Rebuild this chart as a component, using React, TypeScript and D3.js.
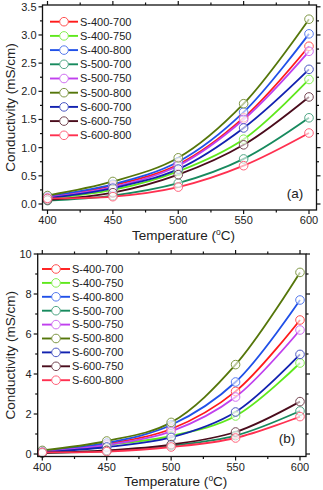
import React from 'react';
import * as d3 from 'd3';

const temps = [400, 450, 500, 550, 600];
const xTicks = [400, 450, 500, 550, 600];
const xMinorTicks = [400, 425, 450, 475, 500, 525, 550, 575, 600];
const seriesNames = ['S-400-700', 'S-400-750', 'S-400-800', 'S-500-700', 'S-500-750', 'S-500-800', 'S-600-700', 'S-600-750', 'S-600-800'];
const seriesColors = ['#ff1a1a', '#5fe81c', '#2050e8', '#178a5e', '#c040ee', '#55760a', '#1222b0', '#4a0c1c', '#ff3050'];

const aS400_700 = [0.12, 0.33, 0.70, 1.53, 2.80];
const aS400_750 = [0.10, 0.25, 0.58, 1.15, 2.21];
const aS400_800 = [0.14, 0.35, 0.75, 1.63, 3.02];
const aS500_700 = [0.06, 0.15, 0.37, 0.80, 1.53];
const aS500_750 = [0.12, 0.30, 0.68, 1.50, 2.71];
const aS500_800 = [0.15, 0.40, 0.82, 1.78, 3.28];
const aS600_700 = [0.10, 0.28, 0.62, 1.35, 2.39];
const aS600_750 = [0.07, 0.20, 0.52, 1.05, 1.90];
const aS600_800 = [0.10, 0.13, 0.30, 0.68, 1.26];

const bS400_700 = [0.12, 0.50, 1.25, 3.13, 6.70];
const bS400_750 = [0.10, 0.45, 0.90, 1.90, 4.55];
const bS400_800 = [0.15, 0.55, 1.45, 3.60, 7.70];
const bS500_700 = [0.05, 0.15, 0.42, 0.92, 2.15];
const bS500_750 = [0.10, 0.45, 1.13, 2.85, 6.20];
const bS500_800 = [0.18, 0.65, 1.58, 4.47, 9.08];
const bS600_700 = [0.08, 0.35, 0.83, 2.10, 4.98];
const bS600_750 = [0.05, 0.18, 0.47, 1.10, 2.62];
const bS600_800 = [0.08, 0.12, 0.35, 0.80, 1.87];

const aSeries = [aS400_700, aS400_750, aS400_800, aS500_700, aS500_750, aS500_800, aS600_700, aS600_750, aS600_800];
const bSeries = [bS400_700, bS400_750, bS400_800, bS500_700, bS500_750, bS500_800, bS600_700, bS600_750, bS600_800];

const aYTicks = [0, 0.5, 1.0, 1.5, 2.0, 2.5, 3.0, 3.5];
const aYMinor = [0, 0.25, 0.5, 0.75, 1, 1.25, 1.5, 1.75, 2, 2.25, 2.5, 2.75, 3, 3.25, 3.5];
const bYTicks = [0, 2, 4, 6, 8, 10];
const bYMinor = [0, 1, 2, 3, 4, 5, 6, 7, 8, 9, 10];

const FONT = 'Liberation Sans, Arial, sans-serif';

type PanelProps = {
  series: number[][];
  yTicks: number[];
  yMinor: number[];
  yFmt: (v: number) => string;
  yDom: [number, number];
  frame: { l: number; r: number; t: number; b: number };
  xRange: [number, number];
  yRange: [number, number];
  legend: { x: number; y: number; dy: number };
  label: string;
  labelPos: [number, number];
  xLabelY: number;
  titleY: number;
  yTitleX: number;
};

function Panel(p: PanelProps) {
  const x = d3.scaleLinear().domain([400, 600]).range(p.xRange);
  const y = d3.scaleLinear().domain(p.yDom).range(p.yRange);
  const line = d3
    .line<number>()
    .x((_, i) => x(temps[i]))
    .y((d) => y(d))
    .curve(d3.curveCatmullRom.alpha(0.5));
  const { l, r, t, b } = p.frame;
  const major = 4;
  const minor = 2.5;
  const markerColor = (c: string) => d3.interpolateRgb(c, '#ffffff')(0.25);
  return (
    <g>
      {p.series.map((s, i) => (
        <path key={'l' + i} d={line(s) || ''} fill="none" stroke={seriesColors[i]} strokeWidth={1.8} />
      ))}
      {p.series.map((s, i) =>
        s.map((v, j) => (
          <circle key={'c' + i + '-' + j} cx={x(temps[j])} cy={y(v)} r={4.3} fill="#ffffff" fillOpacity={0.6} stroke={markerColor(seriesColors[i])} strokeWidth={1} />
        ))
      )}
      <rect x={l} y={t} width={r - l} height={b - t} fill="none" stroke="#111" strokeWidth={1.3} />
      {xMinorTicks.map((v) => {
        const isMajor = xTicks.includes(v);
        const len = isMajor ? major : minor;
        return (
          <g key={'xt' + v}>
            <line x1={x(v)} x2={x(v)} y1={b} y2={b + len} stroke="#111" strokeWidth={1.2} />
            <line x1={x(v)} x2={x(v)} y1={t} y2={t - len} stroke="#111" strokeWidth={1.2} />
          </g>
        );
      })}
      {xTicks.map((v) => (
        <text key={'xl' + v} x={x(v)} y={p.xLabelY} textAnchor="middle" fontFamily={FONT} fontSize={11} fill="#222">
          {v}
        </text>
      ))}
      {p.yMinor.map((v) => {
        const isMajor = p.yTicks.includes(v);
        const len = isMajor ? major : minor;
        return (
          <g key={'yt' + v}>
            <line x1={l} x2={l - len} y1={y(v)} y2={y(v)} stroke="#111" strokeWidth={1.2} />
            <line x1={r} x2={r + len} y1={y(v)} y2={y(v)} stroke="#111" strokeWidth={1.2} />
          </g>
        );
      })}
      {p.yTicks.map((v) => (
        <text key={'yl' + v} x={l - 6} y={y(v)} dy="0.35em" textAnchor="end" fontFamily={FONT} fontSize={11} fill="#222">
          {p.yFmt(v)}
        </text>
      ))}
      <text x={(l + r) / 2 + 4} y={p.titleY} textAnchor="middle" fontFamily={FONT} fontSize={13.5} fill="#222">
        Temperature (<tspan dy={-5} fontSize={8.5}>o</tspan>
        <tspan dy={5}>C)</tspan>
      </text>
      <text
        transform={`translate(${p.yTitleX},${(t + b) / 2}) rotate(-90)`}
        textAnchor="middle"
        dy="0.35em"
        fontFamily={FONT}
        fontSize={13.5}
        fill="#222"
      >
        Conductivity (mS/cm)
      </text>
      {seriesNames.map((n, i) => {
        const ly = p.legend.y + i * p.legend.dy;
        return (
          <g key={'lg' + i}>
            <line x1={p.legend.x} x2={p.legend.x + 28} y1={ly} y2={ly} stroke={seriesColors[i]} strokeWidth={1.9} />
            <circle cx={p.legend.x + 14} cy={ly} r={4.3} fill="#ffffff" stroke={markerColor(seriesColors[i])} strokeWidth={1} />
            <text x={p.legend.x + 30} y={ly} dy="0.35em" fontFamily={FONT} fontSize={11} fill="#222">
              {n}
            </text>
          </g>
        );
      })}
      <text x={p.labelPos[0]} y={p.labelPos[1]} dy="0.35em" textAnchor="middle" fontFamily={FONT} fontSize={13.5} fill="#222">
        {p.label}
      </text>
    </g>
  );
}

export default function App() {
  return (
    <svg width={323} height={490} style={{ position: 'absolute', left: 0, top: 0, background: '#fff' }}>
      <Panel
        series={aSeries}
        yTicks={aYTicks}
        yMinor={aYMinor}
        yFmt={(v) => v.toFixed(1)}
        yDom={[0, 3.5]}
        frame={{ l: 42.5, r: 316.5, t: 5, b: 210 }}
        xRange={[47.5, 309]}
        yRange={[204, 6.8]}
        legend={{ x: 50, y: 21.7, dy: 14.2 }}
        label="(a)"
        labelPos={[295, 193]}
        xLabelY={224}
        titleY={240}
        yTitleX={10}
      />
      <Panel
        series={bSeries}
        yTicks={bYTicks}
        yMinor={bYMinor}
        yFmt={(v) => String(v)}
        yDom={[0, 10]}
        frame={{ l: 37.7, r: 306, t: 254, b: 456.5 }}
        xRange={[42.3, 300]}
        yRange={[454, 254]}
        legend={{ x: 42, y: 269, dy: 13.9 }}
        label="(b)"
        labelPos={[287, 438]}
        xLabelY={471}
        titleY={486}
        yTitleX={10}
      />
    </svg>
  );
}
